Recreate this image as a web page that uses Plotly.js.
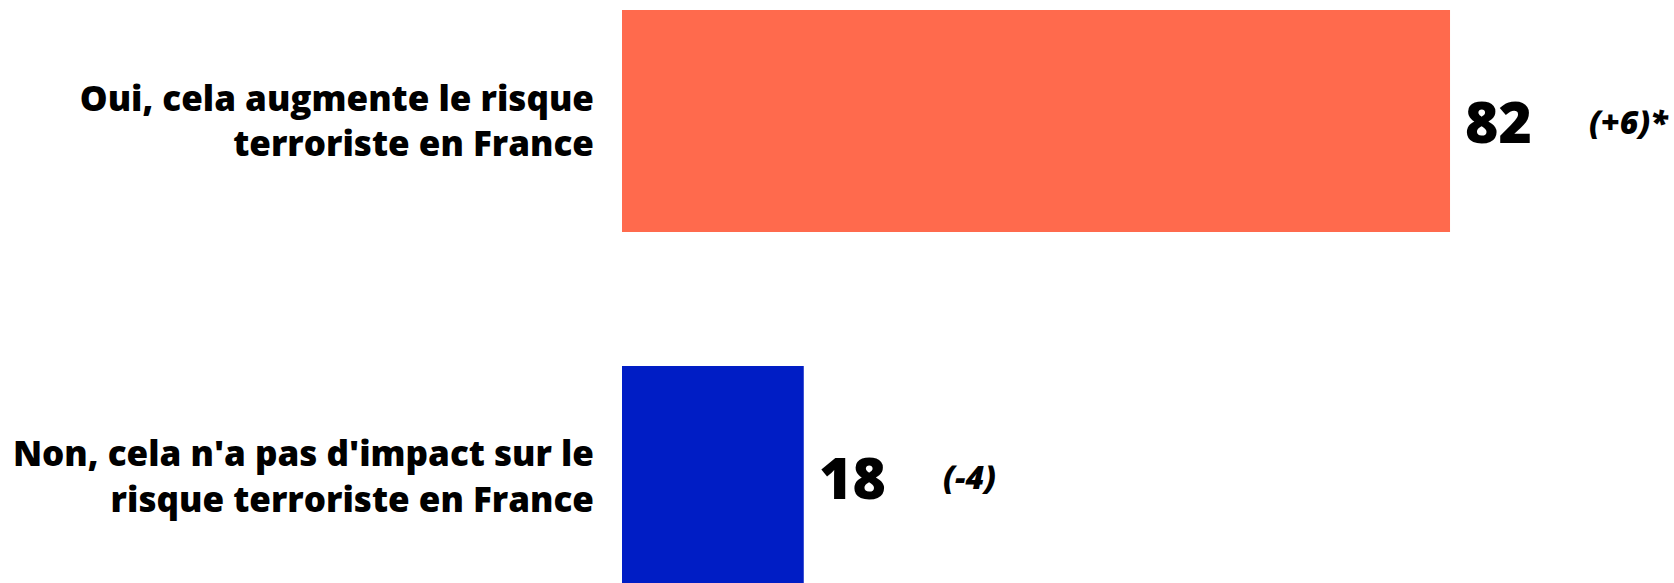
<!DOCTYPE html>
<html>
<head>
<meta charset="utf-8">
<script src="https://cdn.plot.ly/plotly-3.0.1.min.js"></script>
<style>html,body{margin:0;padding:0;background:#fff;}#chart{width:1674px;height:583px;}</style>
</head>
<body>
<div id="chart"></div>
<script>
var categories = ["Oui, cela augmente le risque<br>terroriste en France", "Non, cela n'a pas d'impact sur le<br>risque terroriste en France"];
var values = [82, 18];
var changes = ["(+6)*", "(-4)"];
var barColors = ["#FF6A4D", "#001DC5"];

var FONT = "'Open Sans', Lato, sans-serif";

var annotations = [];
for (var i = 0; i < categories.length; i++) {
  annotations.push({
    x: values[i], y: categories[i], xref: 'x', yref: 'y',
    text: String(values[i]), showarrow: false,
    xanchor: 'left', yanchor: 'middle', xshift: 13, yshift: 0,
    font: {family: FONT, size: 57, color: '#000', weight: 800}
  });
  annotations.push({
    x: values[i], y: categories[i], xref: 'x', yref: 'y',
    text: changes[i], showarrow: false,
    xanchor: 'left', yanchor: 'middle', xshift: 137, yshift: 0,
    font: {family: FONT, size: 32, color: '#000', weight: 800, style: 'italic'}
  });
}

var data = [{
  type: 'bar', orientation: 'h',
  x: values, y: categories,
  marker: {color: barColors, line: {width: 0}},
  width: 0.624,
  hoverinfo: 'none'
}];

var layout = {
  width: 1674, height: 583,
  margin: {l: 622, r: 0, t: 0, b: 0, pad: 0},
  paper_bgcolor: '#fff', plot_bgcolor: '#fff',
  showlegend: false,
  xaxis: {range: [0, 104.18], visible: false, fixedrange: true},
  yaxis: {
    type: 'category', range: [1.2978, -0.3399],
    showgrid: false, zeroline: false, showline: false,
    ticks: 'outside', ticklen: 20, tickcolor: 'rgba(0,0,0,0)',
    tickfont: {family: FONT, size: 35, color: '#000', weight: 800},
    fixedrange: true
  },
  annotations: annotations
};

Plotly.newPlot('chart', data, layout, {displayModeBar: false, staticPlot: true});
</script>
</body>
</html>
